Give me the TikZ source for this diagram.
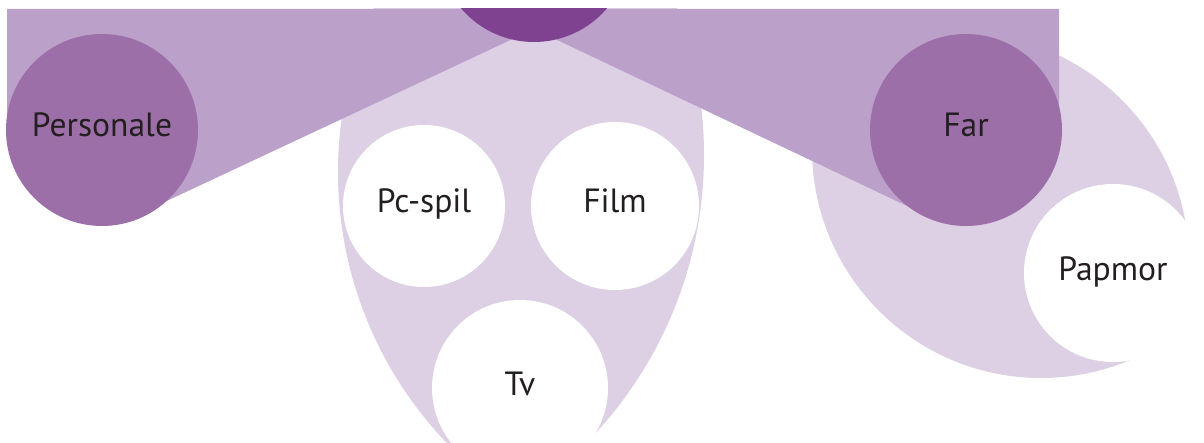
\documentclass[tikz,border=0pt]{standalone}
\usepackage{fontspec}
\setmainfont{PT Sans}
\definecolor{bandpurple}{HTML}{BBA0C9}
\definecolor{lilac}{HTML}{DDD0E5}
\definecolor{midpurple}{HTML}{9D6FA9}
\definecolor{deeppurple}{HTML}{7F4290}
\definecolor{ink}{HTML}{231F20}
\tikzset{
  bigdot/.style={circle, inner sep=0pt, minimum size=96pt, fill=midpurple, text=ink,
    text height=0.7em, text depth=0pt, font=\fontsize{16.8}{19}\selectfont},
  smalldot/.style={bigdot, fill=white},
}
\begin{document}
\begin{tikzpicture}[x=0.5pt,y=-0.5pt]
\useasboundingbox (0,0) rectangle (1204,443);
\clip (0,9) rectangle (1204,443);
% lilac lenses behind the band
\begin{scope}
\clip (730,172) circle (392);
\fill[lilac] (293,155) circle (411);
\end{scope}
\begin{scope}
\clip (1041,149) circle (229);
\fill[lilac] (960,262) circle (229);
\end{scope}
% the band
\fill[bandpurple] (7,9) -- (1059,9) -- (1059,130) -- (926,215) -- (534,29)
  -- (141,213) -- (7,130) -- cycle;
\node[bigdot, fill=deeppurple] (hub) at (534,-54) {};
\node[bigdot] (personale) at (102,130) {Personale};
\node[bigdot] (far) at (966,130) {Far};
\node[smalldot, minimum size=81pt] (pcspil) at (424,206) {Pc-spil};
\node[smalldot, minimum size=84pt] (film) at (615,206) {Film};
\node[smalldot, minimum size=88pt] (tv) at (520,388) {Tv};
\node[smalldot, minimum size=89pt] (papmor) at (1113,273) {Papmor};
\end{tikzpicture}
\end{document}
